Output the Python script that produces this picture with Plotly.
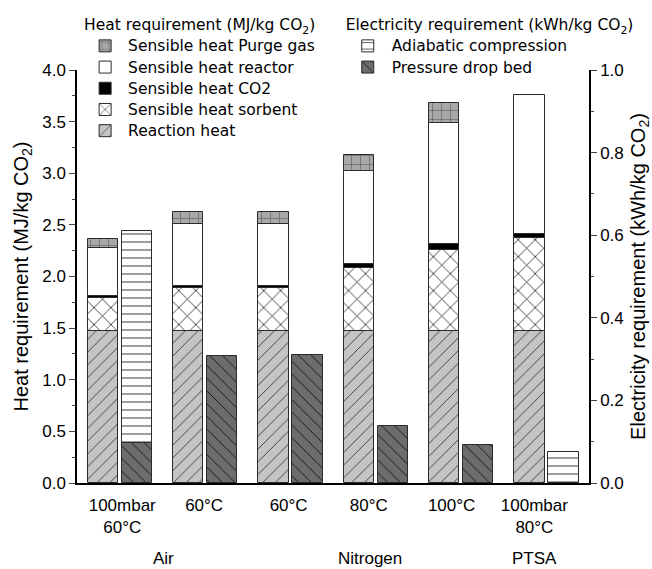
import plotly.graph_objects as go

# Process conditions (one pair of bars per condition)
conditions = ["100mbar<br>60°C", "60°C", "60°C", "80°C", "100°C", "100mbar<br>80°C"]
label_pos = [0.03, 0.99, 1.98, 2.92, 3.89, 4.86]
groups = ["Air", "Nitrogen", "PTSA"]
group_members = [[0, 1], [2, 3, 4], [5]]

# Heat requirement contributions (MJ/kg CO2), stacked bottom to top
reaction_heat = [1.47, 1.47, 1.47, 1.47, 1.47, 1.47]
sensible_sorbent = [0.32, 0.415, 0.415, 0.61, 0.79, 0.905]
sensible_co2 = [0.02, 0.02, 0.02, 0.04, 0.055, 0.04]
sensible_reactor = [0.463, 0.60, 0.60, 0.90, 1.17, 1.343]
sensible_purge = [0.087, 0.116, 0.116, 0.155, 0.193, None]

# Electricity requirement contributions (kWh/kg CO2)
pressure_drop_bed = [0.096, 0.3075, 0.31, 0.138, 0.091, None]
adiabatic_compression = [0.515, None, None, None, None, 0.074]

x = list(range(len(conditions)))
HEAT_OFFSET, ELEC_OFFSET, BAR_W = -0.375, 0.025, 0.355
EDGE = dict(color="#2b2b2b", width=1)


def entry(label):
    # legend rows keep a 14px pitch while the entry text is set a little larger
    return f'<span style="font-size:15.5px">{label}</span>'


fig = go.Figure()

heat_series = [
    ("Reaction heat", reaction_heat, "#c4c4c4", "/", "#3a3a3a", 9, 0.1),
    ("Sensible heat sorbent", sensible_sorbent, "#ffffff", "x", "#222222", 12, 0.13),
    ("Sensible heat CO2", sensible_co2, "#000000", "", "#000000", 8, 0.1),
    ("Sensible heat reactor", sensible_reactor, "#ffffff", "", "#000000", 8, 0.1),
    ("Sensible heat Purge gas", sensible_purge, "#a8a8a8", "+", "#555555", 9, 0.12),
]
for name, vals, bg, shape, fg, size, sol in heat_series:
    fig.add_trace(go.Bar(
        x=x, y=vals, name=entry(name), yaxis="y", legend="legend",
        offset=HEAT_OFFSET, width=BAR_W,
        marker=dict(color=bg, line=EDGE,
                    pattern=dict(shape=shape, bgcolor=bg, fgcolor=fg,
                                 size=size, solidity=sol, fillmode="replace")),
    ))

elec_series = [
    ("Pressure drop bed", pressure_drop_bed, "#6c6c6c", "\\", "#111111", 9, 0.1),
    ("Adiabatic compression", adiabatic_compression, "#ffffff", "-", "#333333", 8, 0.12),
]
for name, vals, bg, shape, fg, size, sol in elec_series:
    fig.add_trace(go.Bar(
        x=x, y=vals, name=entry(name), yaxis="y2", legend="legend2",
        offset=ELEC_OFFSET, width=BAR_W,
        marker=dict(color=bg, line=EDGE,
                    pattern=dict(shape=shape, bgcolor=bg, fgcolor=fg,
                                 size=size, solidity=sol, fillmode="replace")),
    ))

# Group captions under the condition labels
for name, members in zip(groups, group_members):
    cx = sum(label_pos[i] for i in members) / len(members)
    fig.add_annotation(x=cx, xref="x", y=-0.184, yref="paper", text=name,
                       showarrow=False, yanchor="middle",
                       font=dict(family="Liberation Sans, Arial", size=17, color="#000"))

tick_font = dict(family="Liberation Sans, Arial", size=17, color="#000")
title_font = dict(family="Liberation Sans, Arial", size=20, color="#000")
legend_font = dict(family="DejaVu Sans, Verdana", size=14, color="#000")
legend_title_font = dict(family="DejaVu Sans, Verdana", size=15.5, color="#000")

fig.update_layout(
    width=652, height=569,
    margin=dict(l=77, r=63, t=70, b=86, autoexpand=False),
    paper_bgcolor="white", plot_bgcolor="white",
    barmode="relative", bargap=0,
    showlegend=True,
    xaxis=dict(range=[-0.5, 5.5], tickvals=label_pos, ticktext=conditions,
               ticks="", showline=True, linecolor="#000", linewidth=1.5,
               showgrid=False, zeroline=False, tickfont=tick_font,
               ticklabelstandoff=6, automargin=False),
    yaxis=dict(range=[0, 4], dtick=0.5, tickformat=".1f", ticks="outside",
               ticklen=6, tickwidth=1.2, showline=True, linecolor="#000",
               linewidth=1.5, showgrid=False, zeroline=False, tickfont=tick_font,
               minor=dict(ticks="outside", ticklen=3, dtick=0.25, tickwidth=1.2),
               automargin=False,
               title=dict(text="Heat requirement (MJ/kg CO<sub>2</sub>)",
                          font=title_font, standoff=8)),
    yaxis2=dict(range=[0, 1], dtick=0.2, tickformat=".1f", ticks="outside",
                ticklen=6, tickwidth=1.2, showline=True, linecolor="#000",
                linewidth=1.5, showgrid=False, zeroline=False, tickfont=tick_font,
                overlaying="y", side="right", automargin=False,
                minor=dict(ticks="outside", ticklen=3, dtick=0.1, tickwidth=1.2),
                title=dict(text="Electricity requirement (kWh/kg CO<sub>2</sub>)",
                           font=title_font, standoff=13)),
    legend=dict(x=0.01, y=1.145, xanchor="left", yanchor="top",
                traceorder="reversed", font=legend_font,
                title=dict(text="Heat requirement (MJ/kg CO<sub>2</sub>)",
                           font=legend_title_font),
                bgcolor="rgba(0,0,0,0)", itemwidth=36, tracegroupgap=0),
    legend2=dict(x=0.521, y=1.145, xanchor="left", yanchor="top",
                 traceorder="reversed", font=legend_font,
                 title=dict(text="Electricity requirement (kWh/kg CO<sub>2</sub>)",
                            font=legend_title_font),
                 bgcolor="rgba(0,0,0,0)", itemwidth=38, tracegroupgap=0),
)

fig.write_html("out.html")
